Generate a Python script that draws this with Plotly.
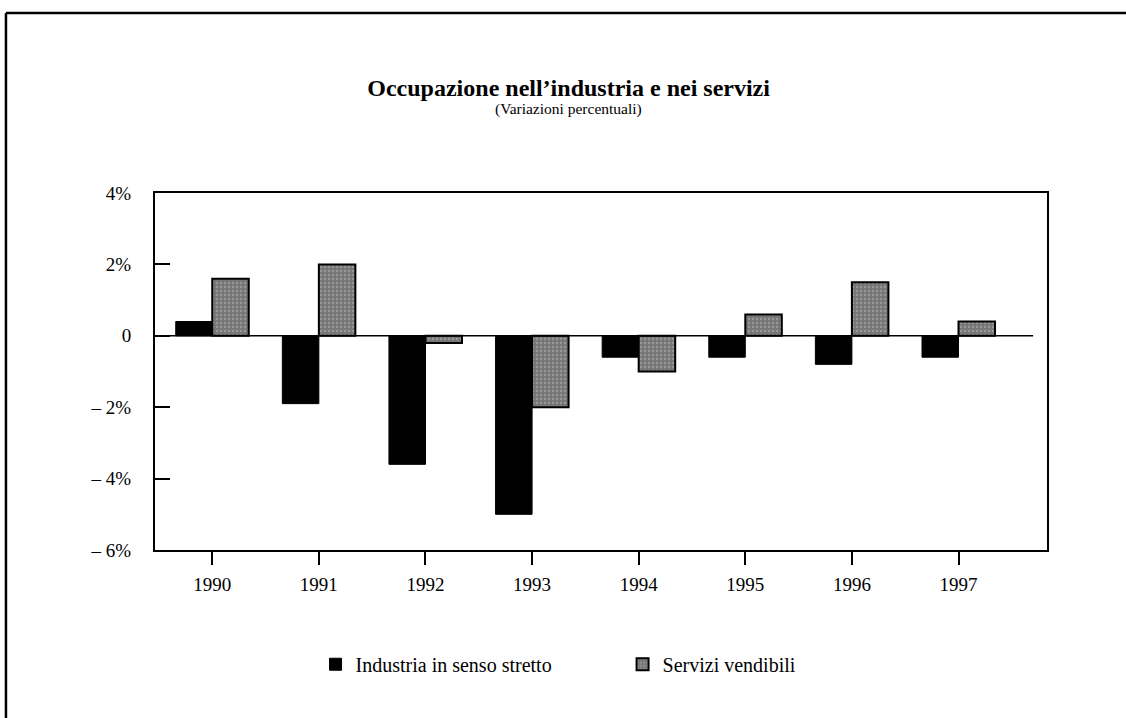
import plotly.graph_objects as go

years = ["1990", "1991", "1992", "1993", "1994", "1995", "1996", "1997"]
industria = [0.4, -1.9, -3.6, -5.0, -0.6, -0.6, -0.8, -0.6]
servizi = [1.6, 2.0, -0.2, -2.0, -1.0, 0.6, 1.5, 0.4]
y_ticks = [-6, -4, -2, 0, 2, 4]
y_ticktext = ["\u2013 6%", "\u2013 4%", "\u2013 2%", "0", "2%", "4%"]

FONT = "Liberation Serif"

fig = go.Figure()
fig.add_trace(go.Bar(
    x=years, y=industria, name="Industria in senso stretto",
    marker=dict(color="#000000", line=dict(color="#000000", width=1)),
))
fig.add_trace(go.Bar(
    x=years, y=servizi, name="Servizi vendibili",
    marker=dict(color="#787878", line=dict(color="#000000", width=2),
                pattern=dict(shape=".", bgcolor="#767676", fgcolor="#bdbdbd",
                             size=4, solidity=0.25)),
))

fig.update_layout(
    width=1126, height=718,
    barmode="group", bargap=0.315, bargroupgap=0,
    plot_bgcolor="white", paper_bgcolor="white",
    margin=dict(l=155, r=79, t=193, b=168),
    font=dict(family=FONT, size=19, color="black"),
    title=dict(text="<b>Occupazione nell\u2019industria e nei servizi</b>",
               x=0.505, xanchor="center", y=1 - 88 / 718, yanchor="middle",
               yref="container", xref="container",
               font=dict(family=FONT, size=24, color="black")),
    showlegend=True,
    legend=dict(orientation="h", x=0.18, xanchor="left", y=-0.32, yanchor="middle",
                font=dict(family=FONT, size=20), entrywidth=262,
                traceorder="normal"),
)

fig.update_xaxes(
    type="category", range=[-0.537, 7.83],
    showline=True, linecolor="black", linewidth=2, mirror=True,
    ticks="outside", ticklen=13, tickwidth=1.5, tickcolor="black",
    showgrid=False, zeroline=False, ticklabelstandoff=3,
    tickfont=dict(family=FONT, size=19, color="black"),
)
fig.update_yaxes(
    range=[-6, 4], tickvals=y_ticks, ticktext=y_ticktext,
    showline=True, linecolor="black", linewidth=2, mirror=True,
    ticks="inside", ticklen=15, tickwidth=1.5, tickcolor="black",
    showgrid=False, zeroline=False, ticklabelstandoff=18,
    tickfont=dict(family=FONT, size=19, color="black"),
)

# zero reference line
fig.add_shape(type="line", xref="x", yref="y", x0=-0.537, x1=7.70, y0=0, y1=0,
              line=dict(color="black", width=1.5))

# subtitle
fig.add_annotation(text="(Variazioni percentuali)", xref="paper", yref="paper",
                   x=(568 - 155) / 891.7, y=(550 - 109) / 357, showarrow=False,
                   xanchor="center", yanchor="middle",
                   font=dict(family=FONT, size=15.5, color="black"))

# outer frame (top and left edges)
fig.add_shape(type="line", xref="paper", yref="paper",
              x0=(6 - 155) / 891.7, x1=(1130 - 155) / 891.7,
              y0=(550 - 13) / 357, y1=(550 - 13) / 357,
              line=dict(color="black", width=2.5))
fig.add_shape(type="line", xref="paper", yref="paper",
              x0=(6 - 155) / 891.7, x1=(6 - 155) / 891.7,
              y0=(550 - 13) / 357, y1=(550 - 720) / 357,
              line=dict(color="black", width=2.5))

fig.write_html("out.html", config={"displayModeBar": False},
               post_script="document.body.style.margin='0';document.body.style.overflow='hidden';")
